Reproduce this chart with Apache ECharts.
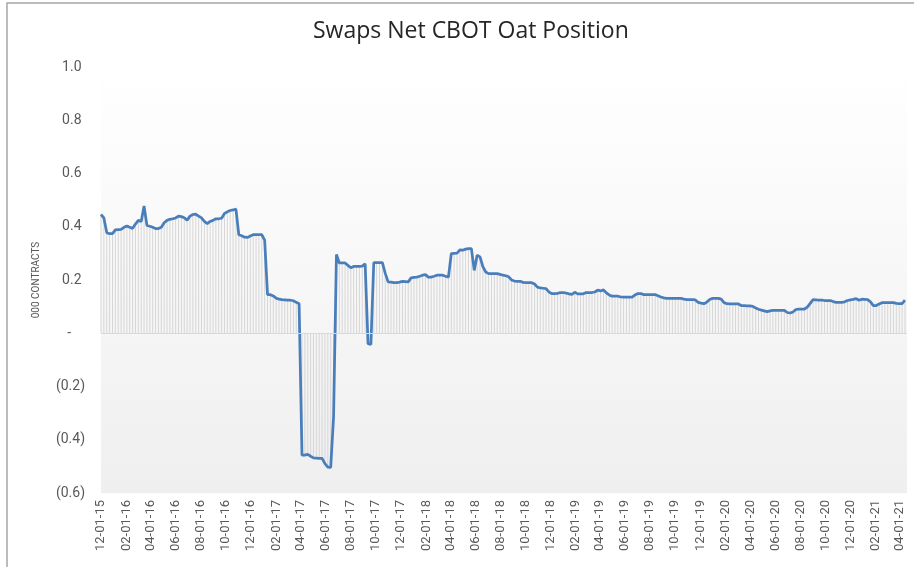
<!DOCTYPE html>
<html>
<head>
<meta charset="utf-8">
<title>Swaps Net CBOT Oat Position</title>
<script src="https://cdn.jsdelivr.net/npm/echarts@6/dist/echarts.min.js"></script>
<style>
    html, body { margin: 0; padding: 0; background: #fff; }
    #chart { width: 914px; height: 567px; }
</style>
</head>
<body>
<div id="chart"></div>
<script>
// 周度数据, 第一周 2015-12-01 (周二), 之后每7天一个点
var firstWeek = [2015, 12, 1];

var net2015 = [0.446, 0.433, 0.378, 0.374, 0.374];

var net2016 = [
    0.388, 0.389, 0.390, 0.398, 0.403, 0.398, 0.394, 0.410, 0.424, 0.420,
    0.478, 0.405, 0.402, 0.398, 0.393, 0.393, 0.398, 0.415, 0.424, 0.428,
    0.430, 0.433, 0.440, 0.438, 0.434, 0.425, 0.440, 0.446, 0.447, 0.440,
    0.433, 0.420, 0.412, 0.420, 0.424, 0.430, 0.430, 0.432, 0.450, 0.456,
    0.461, 0.463, 0.466, 0.370, 0.366, 0.361, 0.360, 0.365, 0.370, 0.370,
    0.370, 0.370
];

var net2017 = [
    0.350, 0.145, 0.145, 0.140, 0.132, 0.128, 0.126, 0.125, 0.124, 0.124,
    0.122, 0.116, 0.111, -0.458, -0.458, -0.455, -0.462, -0.468, -0.469, -0.470,
    -0.470, -0.490, -0.503, -0.504, -0.314, 0.296, 0.264, 0.264, 0.264, 0.255,
    0.246, 0.251, 0.251, 0.251, 0.252, 0.261, -0.039, -0.042, 0.265, 0.265,
    0.265, 0.265, 0.225, 0.193, 0.192, 0.190, 0.190, 0.192, 0.195, 0.194,
    0.193, 0.208
];

var net2018 = [
    0.210, 0.211, 0.214, 0.218, 0.220, 0.211, 0.211, 0.214, 0.218, 0.218,
    0.218, 0.214, 0.211, 0.299, 0.300, 0.301, 0.313, 0.312, 0.316, 0.318,
    0.318, 0.236, 0.293, 0.287, 0.250, 0.230, 0.224, 0.224, 0.224, 0.224,
    0.221, 0.218, 0.216, 0.212, 0.200, 0.196, 0.195, 0.195, 0.191, 0.190,
    0.190, 0.190, 0.185, 0.173, 0.170, 0.169, 0.168, 0.155, 0.149, 0.149,
    0.150, 0.153
];

var net2019 = [
    0.153, 0.151, 0.148, 0.146, 0.154, 0.148, 0.148, 0.148, 0.153, 0.153,
    0.153, 0.155, 0.162, 0.159, 0.163, 0.152, 0.144, 0.139, 0.139, 0.139,
    0.137, 0.136, 0.136, 0.136, 0.136, 0.144, 0.149, 0.149, 0.145, 0.145,
    0.145, 0.145, 0.145, 0.141, 0.136, 0.133, 0.131, 0.131, 0.131, 0.131,
    0.131, 0.131, 0.128, 0.126, 0.126, 0.126, 0.125, 0.116, 0.113, 0.111,
    0.117, 0.127, 0.131
];

var net2020 = [
    0.131, 0.131, 0.128, 0.115, 0.111, 0.110, 0.110, 0.110, 0.110, 0.104,
    0.104, 0.103, 0.103, 0.101, 0.095, 0.090, 0.087, 0.084, 0.081, 0.084,
    0.086, 0.086, 0.086, 0.086, 0.086, 0.078, 0.076, 0.080, 0.089, 0.091,
    0.091, 0.091, 0.098, 0.112, 0.126, 0.125, 0.124, 0.124, 0.123, 0.123,
    0.123, 0.119, 0.116, 0.116, 0.116, 0.118, 0.123, 0.125, 0.127, 0.130,
    0.124, 0.128
];

var net2021 = [
    0.127, 0.126, 0.118, 0.104, 0.104, 0.110, 0.115, 0.115, 0.115, 0.115,
    0.115, 0.112, 0.111, 0.111, 0.124
];

// x轴标签 (每两个月)
var tickDates = [
    '2015-12-01', '2016-02-01', '2016-04-01', '2016-06-01', '2016-08-01', '2016-10-01',
    '2016-12-01', '2017-02-01', '2017-04-01', '2017-06-01', '2017-08-01', '2017-10-01',
    '2017-12-01', '2018-02-01', '2018-04-01', '2018-06-01', '2018-08-01', '2018-10-01',
    '2018-12-01', '2019-02-01', '2019-04-01', '2019-06-01', '2019-08-01', '2019-10-01',
    '2019-12-01', '2020-02-01', '2020-04-01', '2020-06-01', '2020-08-01', '2020-10-01',
    '2020-12-01', '2021-02-01', '2021-04-01'
];

var axisStart = '2015-12-01',
    axisEnd = '2021-04-18';

function toTime(str) {
    var p = str.split('-');
    return new Date(+p[0], +p[1] - 1, +p[2]).getTime();
}

function pad(n) {
    return n < 10 ? '0' + n : '' + n;
}

function dateLabel(v) {
    var d = new Date(v + 12 * 3600 * 1000);
    return pad(d.getMonth() + 1) + '-' + pad(d.getDate()) + '-' + String(d.getFullYear()).slice(2);
}

function valueLabel(v) {
    if (Math.abs(v) < 1e-9) {
        return '-    ';
    }
    if (v < 0) {
        return '(' + (-v).toFixed(1) + ')';
    }
    return v.toFixed(1) + ' ';
}

function drawChart() {
    var values = [].concat(net2015, net2016, net2017, net2018, net2019, net2020, net2021),
        points = [];

    for (var i = 0; i < values.length; i++) {
        var t = new Date(firstWeek[0], firstWeek[1] - 1, firstWeek[2] + 7 * i).getTime();
        points.push([t, values[i]]);
    }

    var myChart = echarts.init(document.getElementById('chart')),
        option = {
            animation: false,
            backgroundColor: '#ffffff',
            textStyle: {
                fontFamily: 'Roboto, "Open Sans", sans-serif'
            },
            title: {
                text: 'Swaps Net CBOT Oat Position',
                left: 308,
                top: 15,
                textStyle: {
                    fontFamily: '"Open Sans", sans-serif',
                    fontSize: 23,
                    fontWeight: 'normal',
                    color: '#262626'
                }
            },
            graphic: [{
                type: 'rect',
                shape: { x: 7, y: 3, width: 1000, height: 1000 },
                style: { fill: 'none', stroke: '#a6a6a6', lineWidth: 1.5 },
                silent: true
            }],
            grid: {
                left: 101,
                right: 7,
                top: 67,
                bottom: 74,
                containLabel: false,
                outerBoundsMode: 'none',
                show: true,
                borderWidth: 0,
                backgroundColor: new echarts.graphic.LinearGradient(0, 0, 0, 1, [
                    { offset: 0, color: '#ffffff' },
                    { offset: 1, color: '#efefef' }
                ])
            },
            xAxis: {
                type: 'value',
                min: toTime(axisStart),
                max: toTime(axisEnd),
                scale: true,
                axisLine: { show: false },
                axisTick: { show: false },
                splitLine: { show: false },
                axisLabel: {
                    customValues: tickDates.map(toTime),
                    formatter: dateLabel,
                    rotate: 90,
                    margin: 7,
                    fontSize: 13,
                    color: '#595959',
                    hideOverlap: false,
                    showMinLabel: true,
                    showMaxLabel: true
                }
            },
            yAxis: {
                type: 'value',
                min: -0.6,
                max: 1.0,
                interval: 0.2,
                name: '000 CONTRACTS',
                nameLocation: 'middle',
                nameRotate: 90,
                nameGap: 60,
                nameTextStyle: {
                    fontSize: 10,
                    color: '#595959'
                },
                axisLine: { show: false },
                axisTick: { show: false },
                splitLine: { show: false },
                axisLabel: {
                    formatter: valueLabel,
                    margin: 16,
                    fontSize: 14,
                    color: '#595959'
                }
            },
            series: [
                {
                    type: 'bar',
                    data: points,
                    barWidth: 1,
                    itemStyle: { color: '#d6d6d6' },
                    silent: true,
                    z: 1,
                    markLine: {
                        silent: true,
                        symbol: 'none',
                        label: { show: false },
                        lineStyle: { color: '#d9d9d9', type: 'solid', width: 1 },
                        data: [{ yAxis: 0 }]
                    }
                },
                {
                    type: 'line',
                    data: points,
                    symbol: 'none',
                    z: 3,
                    lineStyle: {
                        color: '#4a7ebb',
                        width: 2.75
                    }
                }
            ]
        };

    myChart.setOption(option);
}

window.onload = function() {
    drawChart();
};
</script>
</body>
</html>
